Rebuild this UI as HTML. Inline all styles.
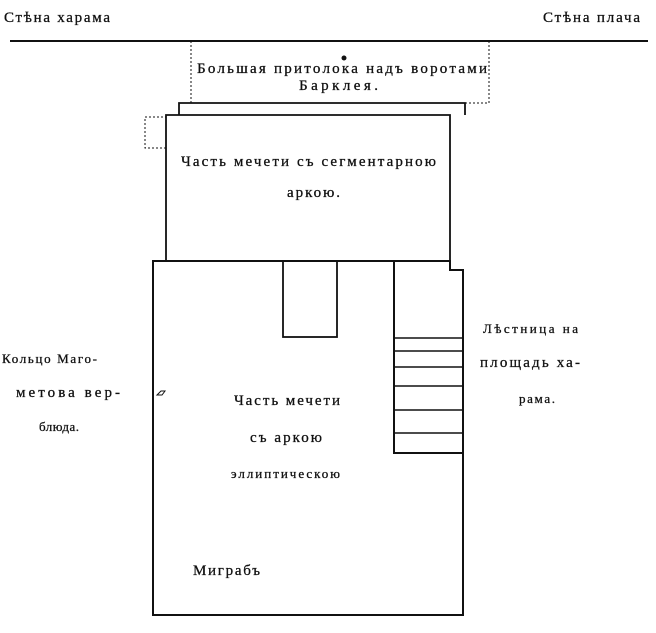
<!DOCTYPE html>
<html><head><meta charset="utf-8"><style>
html,body{margin:0;padding:0;background:#fff;}
svg{display:block;}
text{font-family:"Liberation Serif","DejaVu Serif",serif;font-size:15px;fill:#111;stroke:#111;stroke-width:0.3;}
.s{font-size:13px;}
</style></head><body>
<svg width="656" height="633" viewBox="0 0 656 633" xmlns="http://www.w3.org/2000/svg">
<g stroke="#111" fill="none" stroke-width="2">
<line x1="10" y1="41" x2="648" y2="41"/>
<path d="M179 115 V103 H465 V115" stroke-width="1.8"/>
<path d="M166 261 V115 H450 V261" stroke-width="1.8"/>
<path d="M153 615 V261 H450 V270 H463 V615 Z"/>
<rect x="283" y="261" width="54" height="76" stroke-width="1.8"/>
<path d="M394 261 V453 H463"/>
<g stroke-width="1.6">
<line x1="394" y1="338" x2="463" y2="338"/>
<line x1="394" y1="351" x2="463" y2="351"/>
<line x1="394" y1="367" x2="463" y2="367"/>
<line x1="394" y1="386" x2="463" y2="386"/>
<line x1="394" y1="410" x2="463" y2="410"/>
<line x1="394" y1="433" x2="463" y2="433"/>
</g>
</g>
<g stroke="#111" fill="none" stroke-width="1" stroke-dasharray="2,2">
<path d="M191 41 V103"/>
<path d="M489 41 V103 H465"/>
<path d="M166 148 H145 V117 H166"/>
<line x1="185" y1="115" x2="450" y2="115"/>
</g>
<path d="M157 395 l4 -4 h4 l-3 4 z" fill="none" stroke="#111" stroke-width="1"/>
<circle cx="344" cy="58" r="2.5" fill="#111"/>
<text x="4" y="22" textLength="106" lengthAdjust="spacing">Стѣна харама</text>
<text x="543" y="22" textLength="97" lengthAdjust="spacing">Стѣна плача</text>
<text x="197" y="73" textLength="290" lengthAdjust="spacing">Большая притолока  надъ  воротами</text>
<text x="299" y="90" textLength="79" lengthAdjust="spacing">Барклея.</text>
<text x="181" y="166" textLength="255" lengthAdjust="spacing">Часть мечети  съ  сегментарною</text>
<text x="287" y="197" textLength="53" lengthAdjust="spacing">аркою.</text>
<text class="s" x="2" y="363" textLength="95" lengthAdjust="spacing">Кольцо  Маго-</text>
<text x="16" y="397" textLength="104" lengthAdjust="spacing">метова  вер-</text>
<text class="s" x="39" y="431" textLength="40" lengthAdjust="spacing">блюда.</text>
<text x="234" y="405" textLength="106" lengthAdjust="spacing">Часть мечети</text>
<text x="250" y="442" textLength="72" lengthAdjust="spacing">съ  аркою</text>
<text class="s" x="231" y="478" textLength="109" lengthAdjust="spacing">эллиптическою</text>
<text x="193" y="575" textLength="67" lengthAdjust="spacing">Миграбъ</text>
<text class="s" x="483" y="333" textLength="95" lengthAdjust="spacing">Лѣстница на</text>
<text x="480" y="367" textLength="100" lengthAdjust="spacing">площадь ха-</text>
<text class="s" x="519" y="403" textLength="36" lengthAdjust="spacing">рама.</text>
</svg>
</body></html>
